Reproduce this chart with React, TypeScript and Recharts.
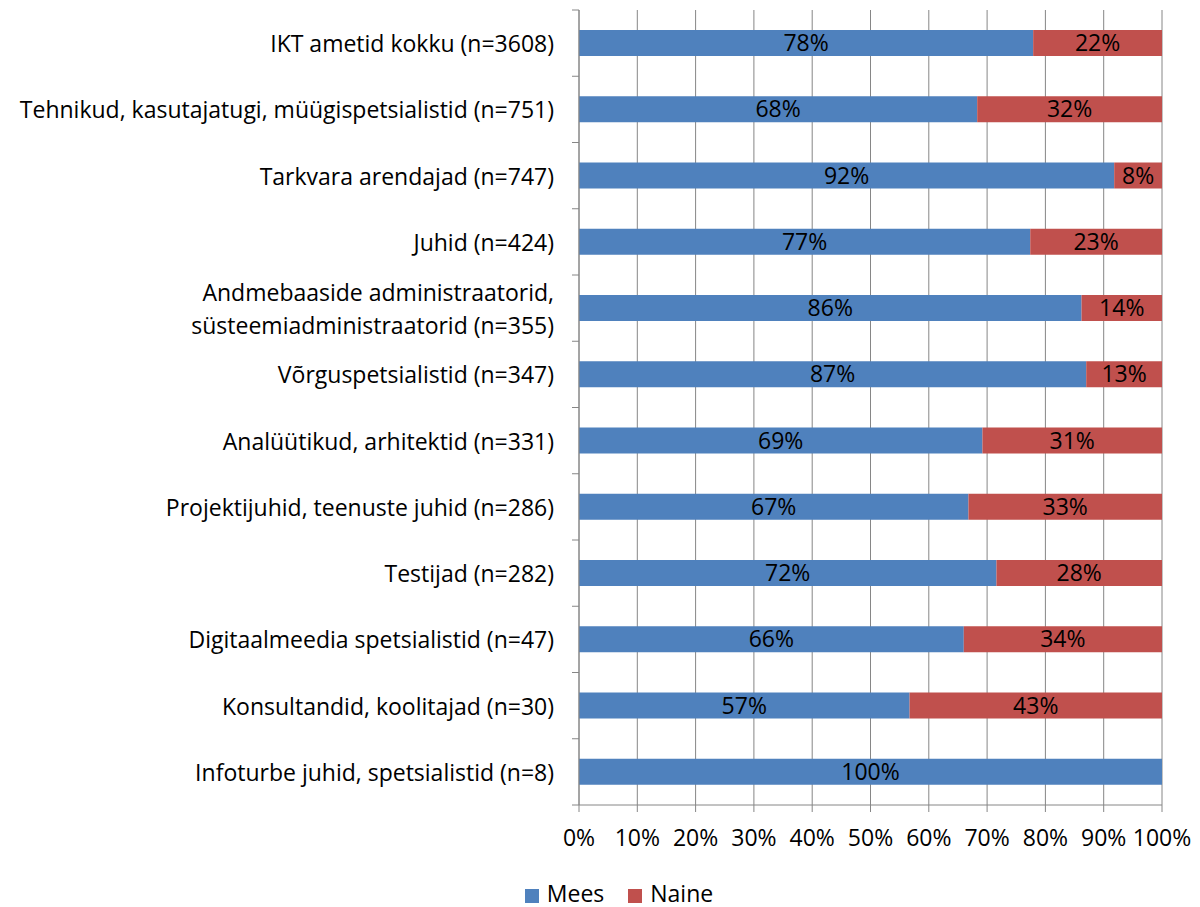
import { BarChart, Bar, XAxis, YAxis, CartesianGrid, Legend, LabelList } from "recharts";

const categories = [
  "IKT ametid kokku (n=3608)",
  "Tehnikud, kasutajatugi, müügispetsialistid (n=751)",
  "Tarkvara arendajad (n=747)",
  "Juhid (n=424)",
  "Andmebaaside administraatorid,|süsteemiadministraatorid (n=355)",
  "Võrguspetsialistid (n=347)",
  "Analüütikud, arhitektid (n=331)",
  "Projektijuhid, teenuste juhid (n=286)",
  "Testijad (n=282)",
  "Digitaalmeedia spetsialistid (n=47)",
  "Konsultandid, koolitajad (n=30)",
  "Infoturbe juhid, spetsialistid (n=8)",
];

const mees = [77.9, 68.3, 91.8, 77.4, 86.2, 87.0, 69.2, 66.8, 71.6, 66.0, 56.7, 100];
const naine = [22.1, 31.7, 8.2, 22.6, 13.8, 13.0, 30.8, 33.2, 28.4, 34.0, 43.3, 0];

const xTicks = [0, 10, 20, 30, 40, 50, 60, 70, 80, 90, 100];

const data = categories.map((name, i) => ({ name, Mees: mees[i], Naine: naine[i] }));

const FONT = "'Open Sans', sans-serif";
const FS = 23;
const AXIS = "#868686";
const PLOT_TOP = 10;
const PLOT_BOTTOM = 805;
const BAND = (PLOT_BOTTOM - PLOT_TOP) / categories.length;

const CategoryTick = (props: any) => {
  const { x, y, payload, index } = props;
  const lines = String(payload.value).split("|");
  const lh = 33;
  const start = y - ((lines.length - 1) * lh) / 2;
  return (
    <g>
      <line x1={579} x2={572} y1={y - BAND / 2} y2={y - BAND / 2} stroke={AXIS} />
      {index === categories.length - 1 && (
        <line x1={579} x2={572} y1={y + BAND / 2} y2={y + BAND / 2} stroke={AXIS} />
      )}
      <text x={x - 17} y={start} textAnchor="end" dominantBaseline="central" fontSize={FS} fill="#000" fontFamily={FONT}>
        {lines.map((l, i) => (
          <tspan key={i} x={x - 17} dy={i === 0 ? 0 : lh}>
            {l}
          </tspan>
        ))}
      </text>
    </g>
  );
};

const pctLabel = (v: any) => (Number(v) > 0 ? `${Math.round(Number(v))}%` : "");

export default function App() {
  return (
    <div style={{ position: "absolute", left: 0, top: 0, width: 1200, height: 907, background: "#fff" }}>
      <BarChart
        width={1200}
        height={907}
        data={data}
        layout="vertical"
        margin={{ top: PLOT_TOP, right: 38, left: 0, bottom: 0 }}
        style={{ fontFamily: FONT }}
      >
        <CartesianGrid horizontal={false} stroke={AXIS} />
        <XAxis
          type="number"
          domain={[0, 100]}
          ticks={xTicks}
          tickFormatter={(v) => `${v}%`}
          stroke={AXIS}
          tickSize={7}
          height={74}
          tick={{ fill: "#000", fontSize: FS, fontFamily: FONT, dy: 16 }}
          interval={0}
        />
        <YAxis
          type="category"
          dataKey="name"
          width={579}
          stroke={AXIS}
          tickLine={false}
          tick={<CategoryTick />}
          interval={0}
        />
        <Legend
          verticalAlign="bottom"
          iconType="square"
          iconSize={14}
          height={28}
          wrapperStyle={{ fontSize: FS, fontFamily: FONT, color: "#000", lineHeight: "28px", paddingLeft: 50 }}
          formatter={(v) => <span style={{ color: "#000", marginLeft: 4, marginRight: 14 }}>{v}</span>}
        />
        <Bar dataKey="Mees" stackId="a" fill="#4F81BD" barSize={26} isAnimationActive={false}>
          <LabelList dataKey="Mees" position="center" formatter={pctLabel} fill="#000" fontSize={FS} fontFamily={FONT} />
        </Bar>
        <Bar dataKey="Naine" stackId="a" fill="#C0504D" barSize={26} isAnimationActive={false}>
          <LabelList dataKey="Naine" position="center" formatter={pctLabel} fill="#000" fontSize={FS} fontFamily={FONT} />
        </Bar>
      </BarChart>
    </div>
  );
}
